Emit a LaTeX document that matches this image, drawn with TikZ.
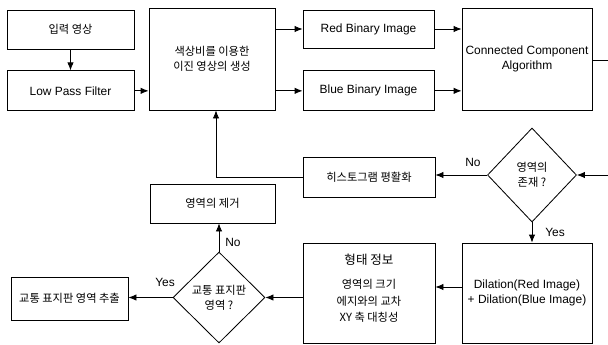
\documentclass[tikz,border=0pt]{standalone}
\usepackage{fontspec}
\setmainfont{Liberation Sans}
\newfontfamily\kr{Noto Sans CJK KR}[Scale=0.94]
\usetikzlibrary{arrows.meta,positioning,shapes.geometric}

\begin{document}
\begin{tikzpicture}[
  font=\fontsize{8.5}{10.6}\selectfont,
  procbox/.style={draw, line width=0.6pt, align=center, inner sep=1pt},
  decide/.style={draw, diamond, line width=0.6pt, align=center, inner sep=0pt},
  tag/.style={inner sep=1pt},
  arr/.style={-{Latex[length=2mm,width=1.6mm]}, line width=0.6pt},
  wire/.style={line width=0.6pt}
]
  \useasboundingbox (0,0) rectangle (15.2,-8.625);
  % top row
  \node[procbox, minimum width=3.175cm, minimum height=0.975cm] (input) at (1.7625,-0.7375) {\kr 입력 영상};
  \node[procbox, minimum width=3.175cm, minimum height=1cm, below=0.525cm of input] (lpf) {Low Pass Filter};
  \node[procbox, minimum width=3.15cm, minimum height=2.55cm] (gen) at (5.3,-1.475) {\kr 색상비를 이용한\\\kr 이진 영상의 생성};
  \node[procbox, minimum width=3.275cm, minimum height=0.95cm] (red) at (9.2125,-0.725) {Red Binary Image};
  \node[procbox, minimum width=3.275cm, minimum height=1cm, below=0.55cm of red] (blue) {Blue Binary Image};
  \node[procbox, minimum width=3.25cm, minimum height=2.55cm] (ccomp) at (13.175,-1.475) {Connected Component\\Algorithm};
  % middle row
  \node[procbox, minimum width=3.3cm, minimum height=1cm] (hist) at (9.225,-4.425) {\kr 히스토그램 평활화};
  \node[decide, minimum width=2.225cm, minimum height=2.35cm] (exist) at (13.3,-4.375) {\kr 영역의\\\kr 존재 ?};
  \node[procbox, minimum width=3.125cm, minimum height=0.975cm] (remove) at (5.3125,-5.0875) {\kr 영역의 제거};
  % bottom row
  \node[procbox, minimum width=3.3cm, minimum height=2.5cm] (shapeinfo) at (9.225,-7.325) {{\kr\fontsize{9.5}{11}\selectfont 형태 정보}\\[7pt]\kr 영역의 크기\\[1pt]\kr 에지와의 교차\\[1pt]\kr XY 축 대칭성\\[-3pt]{}};
  \node[procbox, minimum width=3.25cm, minimum height=2.5cm] (dil) at (13.175,-7.325) {Dilation(Red Image)\\+ Dilation(Blue Image)};
  \node[decide, minimum width=2.3cm, minimum height=2.275cm] (sign) at (5.475,-7.4375) {\kr 교통 표지판\\\kr 영역 ?};
  \node[procbox, minimum width=2.925cm, minimum height=1.075cm] (extract) at (1.7375,-7.4625) {\kr 교통 표지판 영역 추출};
  % labels
  \node[tag] (noA) at (11.825,-4.05) {No};
  \node[tag] (yesA) at (13.875,-5.8) {Yes};
  \node[tag] (noB) at (5.825,-6.05) {No};
  \node[tag] (yesB) at (4.125,-7.05) {Yes};
  \coordinate (edgetop) at (15.25,-1.5);
  \coordinate (edgebot) at (15.25,-4.375);
  % connectors
  \draw[arr] (input) -- (lpf);
  \draw[arr] (lpf.east) -- (lpf.east -| gen.west);
  \draw[arr] (gen.east |- red) -- (red.west);
  \draw[arr] (gen.east |- blue) -- (blue.west);
  \draw[arr] (red.east) -- (red.east -| ccomp.west);
  \draw[arr] (blue.east) -- (blue.east -| ccomp.west);
  \draw[wire] (ccomp.east |- edgetop) -- (edgetop) -- (edgebot);
  \draw[arr] (edgebot) -- (exist.east);
  \draw[arr] (exist.west) -- (exist.west -| hist.east);
  \draw[arr] (hist.west) -| ([xshift=0.1cm]gen.south);
  \draw[arr] (exist.south) -- (exist.south |- dil.north);
  \draw[arr] ([yshift=0.15cm]dil.west) -- ([yshift=0.15cm]dil.west -| shapeinfo.east);
  \draw[arr] (shapeinfo.west |- sign.east) -- (sign.east);
  \draw[arr] (sign.north) -- (sign.north |- remove.south);
  \draw[arr] (sign.west) -- (sign.west -| extract.east);
\end{tikzpicture}
\end{document}
